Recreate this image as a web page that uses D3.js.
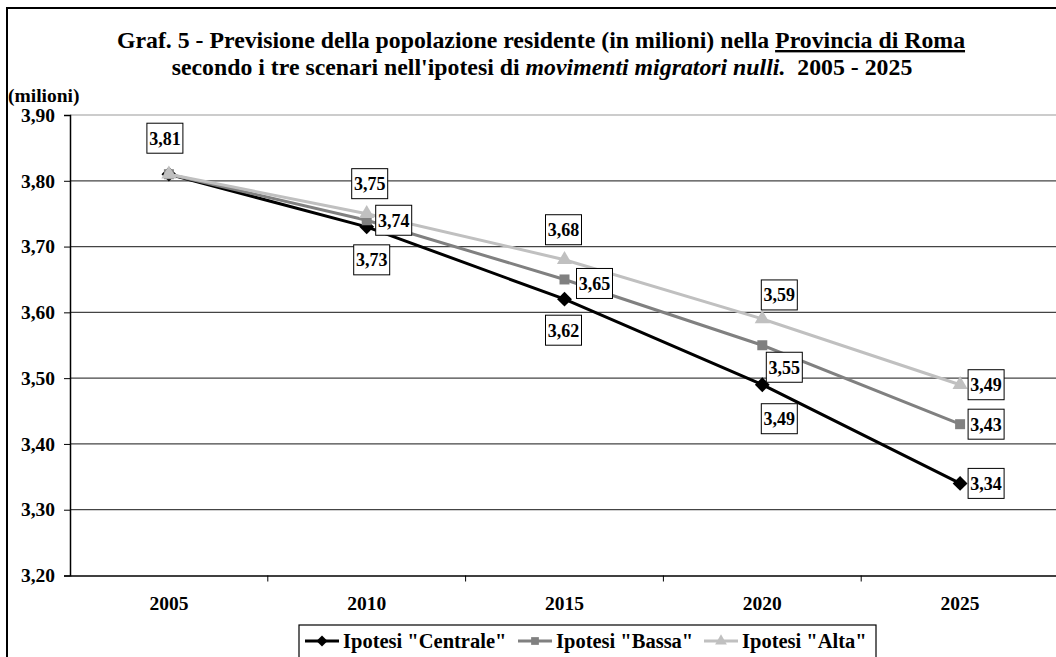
<!DOCTYPE html>
<html>
<head>
<meta charset="utf-8">
<script src="https://cdn.jsdelivr.net/npm/d3@7"></script>
<style>
  html, body { margin: 0; padding: 0; background: #fff; }
  svg { display: block; font-family: "Liberation Serif", "Times New Roman", serif; }
</style>
</head>
<body>
<svg id="chart" width="1056" height="657"></svg>
<script>
// Anni di previsione
const years = ["2005", "2010", "2015", "2020", "2025"];

// Popolazione residente prevista (milioni) per scenario
const centrale = [3.81, 3.73, 3.62, 3.49, 3.34];
const bassa    = [3.81, 3.74, 3.65, 3.55, 3.43];
const alta     = [3.81, 3.75, 3.68, 3.59, 3.49];

const seriesNames = ['Ipotesi "Centrale"', 'Ipotesi "Bassa"', 'Ipotesi "Alta"'];

// Etichette dell'asse Y
const yTicks = [3.20, 3.30, 3.40, 3.50, 3.60, 3.70, 3.80, 3.90];

// Posizionamento delle etichette valore (spostamento dal punto, null = nessuna etichetta)
const labelOffsets = {
  centrale: [null, [5, 33], [-1, 31], [17, 34], [26, 0]],
  bassa:    [null, [27, 0], [30, 4], [22, 22], [26, 0]],
  alta:     [[-4, -36], [3, -30], [-1, -30], [17, -24], [26, 0]]
};

const fmt = v => d3.format(".2f")(v).replace(".", ",");
const FONT = "Liberation Serif, Times New Roman, serif";

// rombo "quadrato" (quadrato ruotato di 45°)
const squareDiamond = {
  draw(context, size) {
    const r = Math.sqrt(size / 2);
    context.moveTo(0, -r);
    context.lineTo(r, 0);
    context.lineTo(0, r);
    context.lineTo(-r, 0);
    context.closePath();
  }
};

const svg = d3.select("#chart");

// cornice esterna del grafico
svg.append("rect")
  .attr("x", 7).attr("y", 8).attr("width", 1060).attr("height", 660)
  .attr("fill", "#fff").attr("stroke", "#000").attr("stroke-width", 2);

// titolo
const title = svg.append("text")
  .attr("x", 541).attr("y", 48)
  .attr("text-anchor", "middle")
  .attr("font-weight", "bold").attr("font-size", 23.8);
title.append("tspan").text("Graf. 5 - Previsione della popolazione residente (in milioni) nella ");
title.append("tspan").attr("text-decoration", "underline").text("Provincia di Roma");

const title2 = svg.append("text")
  .attr("x", 542).attr("y", 75)
  .attr("text-anchor", "middle")
  .attr("font-weight", "bold").attr("font-size", 23.8);
title2.append("tspan").text("secondo i tre scenari nell'ipotesi di ");
title2.append("tspan").attr("font-style", "italic").text("movimenti migratori nulli.");
title2.append("tspan").text("\u00a0 2005 - 2025");

svg.append("text")
  .attr("x", 8).attr("y", 102)
  .attr("font-weight", "bold").attr("font-size", 19.5)
  .text("(milioni)");

const margin = { left: 70, top: 115, right: 1059, bottom: 575.5 };

const x = d3.scaleBand().domain(years).range([margin.left, margin.right]);
const y = d3.scaleLinear().domain([3.20, 3.90]).range([margin.bottom, margin.top]);

// griglia orizzontale
svg.append("g")
  .selectAll("line")
  .data(yTicks.filter(t => t > 3.2))
  .join("line")
  .attr("x1", margin.left).attr("x2", margin.right)
  .attr("y1", d => y(d)).attr("y2", d => y(d))
  .attr("stroke", d => d === 3.9 ? "#999" : "#444")
  .attr("stroke-width", 1.2);

// asse Y
const yAxis = svg.append("g")
  .attr("transform", `translate(${margin.left},0)`)
  .call(d3.axisLeft(y).tickValues(yTicks).tickFormat(fmt).tickSize(6).tickPadding(9));
yAxis.select(".domain").attr("stroke", "#000").attr("stroke-width", 1.5);
yAxis.selectAll(".tick line").attr("stroke", "#000");
yAxis.selectAll("text")
  .attr("font-family", FONT)
  .attr("font-weight", "bold").attr("font-size", 19.5).attr("fill", "#000");

// asse X
const xAxis = svg.append("g")
  .attr("transform", `translate(0,${margin.bottom})`)
  .call(d3.axisBottom(x).tickSize(0).tickPadding(21));
xAxis.select(".domain").attr("stroke", "#000").attr("stroke-width", 1.5);
xAxis.selectAll("text")
  .attr("font-family", FONT)
  .attr("font-weight", "bold").attr("font-size", 19.5).attr("fill", "#000");
// tacche tra le categorie
svg.append("g")
  .selectAll("line")
  .data(years.slice(1))
  .join("line")
  .attr("x1", d => x(d)).attr("x2", d => x(d))
  .attr("y1", margin.bottom).attr("y2", margin.bottom + 6)
  .attr("stroke", "#000");

// ordine di disegno: centrale, bassa, alta (l'ultima resta in primo piano)
const series = [
  { key: "centrale", values: centrale, color: "#000000", marker: squareDiamond,    size: 110 },
  { key: "bassa",    values: bassa,    color: "#808080", marker: d3.symbolSquare,   size: 100 },
  { key: "alta",     values: alta,     color: "#c0c0c0", marker: d3.symbolTriangle, size: 100 }
];

const cx = i => x(years[i]) + x.bandwidth() / 2;
const line = d3.line().x((d, i) => cx(i)).y(d => y(d));

series.forEach(s => {
  svg.append("path")
    .datum(s.values)
    .attr("d", line)
    .attr("fill", "none")
    .attr("stroke", s.color)
    .attr("stroke-width", 3);
  svg.append("g")
    .selectAll("path")
    .data(s.values)
    .join("path")
    .attr("transform", (d, i) => `translate(${cx(i)},${y(d)})`)
    .attr("d", d3.symbol().type(s.marker).size(s.size))
    .attr("fill", s.color);
});

// etichette valore in riquadro
series.forEach(s => {
  s.values.forEach((v, i) => {
    const off = labelOffsets[s.key][i];
    if (!off) return;
    const lx = cx(i) + off[0], ly = y(v) + off[1];
    const g = svg.append("g").attr("transform", `translate(${lx},${ly})`);
    g.append("rect")
      .attr("x", -18).attr("y", -15).attr("width", 36).attr("height", 30)
      .attr("fill", "#fff").attr("stroke", "#000").attr("stroke-width", 1);
    g.append("text")
      .attr("text-anchor", "middle").attr("y", 6.5)
      .attr("font-weight", "bold").attr("font-size", 18)
      .text(fmt(v));
  });
});

// legenda
const legend = svg.append("g");
legend.append("rect")
  .attr("x", 299).attr("y", 625).attr("width", 577).attr("height", 40)
  .attr("fill", "#fff").attr("stroke", "#000").attr("stroke-width", 1.2);

const legendItems = [
  { name: seriesNames[0], color: "#000000", marker: squareDiamond, size: 60, x: 305 },
  { name: seriesNames[1], color: "#808080", marker: d3.symbolSquare, size: 60, x: 518 },
  { name: seriesNames[2], color: "#c0c0c0", marker: d3.symbolTriangle, size: 60, x: 704 }
];
legendItems.forEach(it => {
  const g = legend.append("g").attr("transform", `translate(${it.x},641)`);
  g.append("line").attr("x1", 0).attr("x2", 34).attr("stroke", it.color).attr("stroke-width", 3);
  g.append("path").attr("transform", "translate(17,0)")
    .attr("d", d3.symbol().type(it.marker).size(it.size)).attr("fill", it.color);
  g.append("text").attr("x", 38).attr("y", 7)
    .attr("font-weight", "bold").attr("font-size", 20.5)
    .text(it.name);
});
</script>
</body>
</html>
